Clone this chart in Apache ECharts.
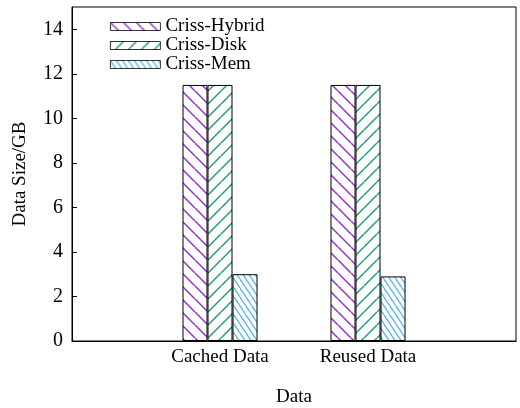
<!DOCTYPE html>
<html>
<head>
<meta charset="utf-8">
<script src="https://cdn.jsdelivr.net/npm/echarts@6/dist/echarts.min.js"></script>
<style>
html, body { margin: 0; padding: 0; background: #fff; }
#chart { width: 520px; height: 408px; }
</style>
</head>
<body>
<div id="chart"></div>
<script>
// data
var categories = ['', 'Cached Data', 'Reused Data', ''];
var seriesNames = ['Criss-Hybrid', 'Criss-Disk', 'Criss-Mem'];
var hybridValues = ['-', 11.5, 11.5, '-'];
var diskValues = ['-', 11.5, 11.5, '-'];
var memValues = ['-', 3.0, 2.9, '-'];

// hatch pattern tile: dir 1 = "\", -1 = "/"
function hatch(color, w, h, dir, lw) {
	var c = document.createElement('canvas');
	c.width = w;
	c.height = h;
	var ctx = c.getContext('2d');
	ctx.fillStyle = '#fff';
	ctx.fillRect(0, 0, w, h);
	ctx.strokeStyle = color;
	ctx.lineWidth = lw;
	for (var k = -1; k <= 1; k++) {
		ctx.beginPath();
		if (dir === 1) {
			ctx.moveTo(k * w, 0);
			ctx.lineTo(k * w + w, h);
		} else {
			ctx.moveTo(k * w, h);
			ctx.lineTo(k * w + w, 0);
		}
		ctx.stroke();
	}
	return { image: c, repeat: 'repeat' };
}

var font = 'Liberation Serif';

function barSeries(name, values, pattern) {
	return {
		name: name,
		type: 'bar',
		data: values,
		barWidth: 25,
		barGap: '0%',
		itemStyle: {
			color: pattern,
			borderColor: '#000',
			borderWidth: 1
		}
	};
}

var chart = echarts.init(document.getElementById('chart'));
chart.setOption({
	animation: false,
	backgroundColor: '#fff',
	textStyle: { fontFamily: font },
	grid: {
		left: 72, right: 4, top: 7, bottom: 67,
		outerBoundsMode: 'none',
		containLabel: false,
		show: true, borderColor: '#000', borderWidth: 1
	},
	legend: {
		orient: 'vertical',
		left: 105,
		top: 12,
		icon: 'rect',
		itemWidth: 50,
		itemHeight: 8,
		itemGap: 0,
		itemStyle: { borderWidth: 0.8 },
		textStyle: { fontFamily: font, fontSize: 19, color: '#000', lineHeight: 19 },
		data: seriesNames
	},
	xAxis: {
		type: 'category',
		data: categories,
		boundaryGap: false,
		name: 'Data',
		nameLocation: 'middle',
		nameGap: 47,
		nameTextStyle: { fontFamily: font, fontSize: 19, color: '#000' },
		axisLine: { lineStyle: { color: '#000' } },
		axisTick: { show: false },
		axisLabel: { fontFamily: font, fontSize: 19, color: '#000', margin: 7 },
		splitLine: { show: false }
	},
	yAxis: {
		type: 'value',
		min: 0,
		max: 15,
		interval: 2,
		name: 'Data Size/GB',
		nameLocation: 'middle',
		nameGap: 42,
		nameTextStyle: { fontFamily: font, fontSize: 19, color: '#000' },
		axisLine: { show: true, lineStyle: { color: '#000' } },
		axisTick: { show: true, inside: true, length: 5, lineStyle: { color: '#000' } },
		axisLabel: { fontFamily: font, fontSize: 20, color: '#000', margin: 9, showMaxLabel: false },
		splitLine: { show: false }
	},
	series: [
		barSeries(seriesNames[0], hybridValues, hatch('#9a2fd0', 13, 13, 1, 1.5)),
		barSeries(seriesNames[1], diskValues, hatch('#1f9e78', 13, 13, -1, 1.5)),
		barSeries(seriesNames[2], memValues, hatch('#5cb6e6', 6, 9, 1, 1.3))
	]
});
</script>
</body>
</html>
